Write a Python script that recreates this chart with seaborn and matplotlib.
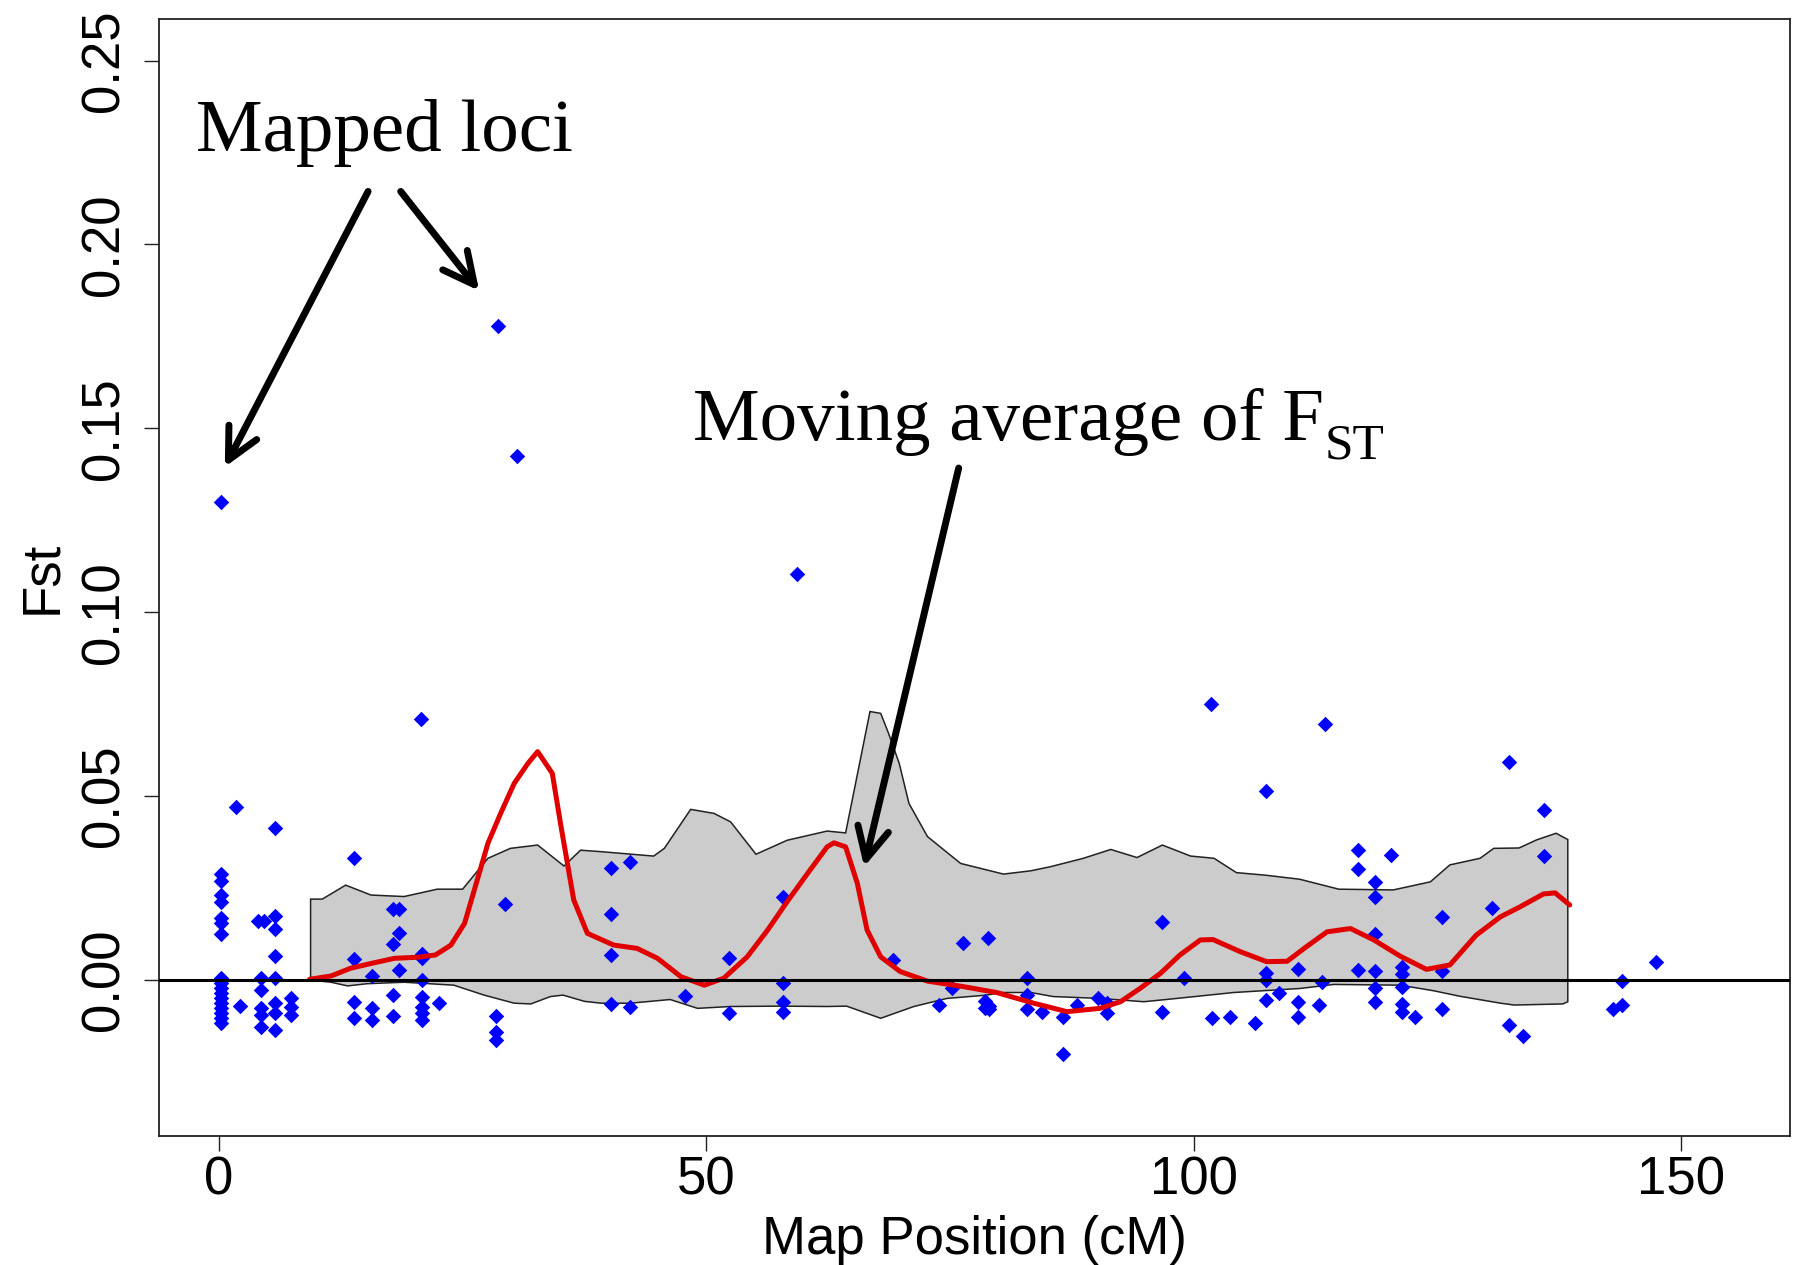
import matplotlib
matplotlib.use("Agg")
import matplotlib.pyplot as plt
import pandas as pd
import seaborn as sns

# ---- mapped loci: map position (cM) and per-locus Fst ----
locus_pos = [
    0.2, 0.2, 0.2, 0.2, 0.2, 0.2, 0.2, 0.2, 0.2, 0.2, 0.2, 0.2, 0.2, 0.2, 0.2, 0.2, 0.2, 0.2,
    1.7, 2.2, 4.0, 4.6,
    4.3, 4.3, 4.3, 4.3, 4.3,
    5.7, 5.7, 5.7, 5.7, 5.7, 5.7, 5.7, 5.7,
    7.4, 7.4, 7.4,
    13.9, 13.9, 13.9, 13.9,
    15.7, 15.7, 15.7,
    17.9, 17.9, 17.9, 17.9,
    18.5, 18.5, 18.5,
    20.7,
    20.8, 20.8, 20.8, 20.8, 20.8, 20.8, 20.8,
    22.6,
    28.4, 28.4, 28.4,
    28.6, 29.3, 30.6,
    40.2, 40.2, 40.2, 40.2,
    42.2, 42.2,
    47.8,
    52.3, 52.3,
    57.9, 57.9, 57.9, 57.9,
    59.3, 69.2, 73.9, 75.2, 76.3, 78.9,
    78.6, 78.6, 79.0, 79.0,
    82.9, 82.9, 82.9,
    84.4,
    86.6, 86.6,
    88.0, 90.2,
    91.1, 91.1,
    96.8, 96.8,
    99.0, 101.8, 101.9, 103.7, 106.3,
    107.4, 107.4, 107.4, 107.4,
    108.8,
    110.7, 110.7, 110.7,
    112.9, 113.2, 113.5,
    116.9, 116.9, 116.9,
    118.6, 118.6, 118.6, 118.6, 118.6, 118.6,
    120.3,
    121.4, 121.4, 121.4, 121.4, 121.4,
    122.7,
    125.5, 125.5, 125.5,
    130.6,
    132.4, 132.4,
    133.8,
    136.0, 136.0,
    143.0,
    144.0, 144.0,
    147.4,
]
locus_fst = [
    0.130, 0.0288, 0.0270, 0.0231, 0.0213, 0.0168, 0.0154, 0.0125, 0.0005,
    -0.0009, -0.0023, -0.0036, -0.0050, -0.0063, -0.0077, -0.0090, -0.0104, -0.0118,
    0.0470, -0.0071, 0.0160, 0.0161,
    0.0005, -0.0027, -0.0077, -0.0095, -0.0127,
    0.0414, 0.0175, 0.0139, 0.0066, 0.0005, -0.0063, -0.0090, -0.0136,
    -0.0050, -0.0072, -0.0095,
    0.0333, 0.0057, -0.0061, -0.0104,
    0.0011, -0.0077, -0.0109,
    0.0193, 0.0098, -0.0041, -0.0098,
    0.0193, 0.0127, 0.0027,
    0.0710,
    0.0071, 0.0060, 0.0000, -0.0047, -0.0072, -0.0090, -0.0109,
    -0.0063,
    -0.0097, -0.0140, -0.0163,
    0.1778, 0.0206, 0.1426,
    0.0304, 0.0179, 0.0068, -0.0065,
    0.0320, -0.0072,
    -0.0044,
    0.0059, -0.0089,
    0.0227, -0.0009, -0.0059, -0.0088,
    0.1105, 0.0054, -0.0068, -0.0023, 0.0101, 0.0113,
    -0.0058, -0.0077, -0.0070, -0.0080,
    0.0005, -0.0041, -0.0080,
    -0.0086,
    -0.0100, -0.0201,
    -0.0068, -0.0050,
    -0.0063, -0.0090,
    0.0157, -0.0088,
    0.0006, 0.0750, -0.0102, -0.0101, -0.0116,
    0.0515, 0.0020, 0.0000, -0.0054,
    -0.0036,
    0.0029, -0.0059, -0.0100,
    -0.0068, -0.0005, 0.0697,
    0.0353, 0.0301, 0.0027,
    0.0267, 0.0227, 0.0125, 0.0025, -0.0023, -0.0059,
    0.0340,
    0.0036, 0.0016, -0.0018, -0.0065, -0.0086,
    -0.0101,
    0.0172, 0.0025, -0.0080,
    0.0195,
    0.0594, -0.0122,
    -0.0151,
    0.0462, 0.0337,
    -0.0080,
    -0.0002, -0.0068,
    0.0050,
]

# ---- moving average of Fst along the map ----
ma_pos = [9.3, 11.5, 13.5, 15.6, 18.0, 20.4, 22.2, 23.8, 25.2, 26.5, 27.6, 28.9, 30.3,
          31.7, 32.7, 34.2, 35.1, 36.4, 37.8, 40.5, 42.9, 45.0, 47.4, 49.8, 51.8,
          54.2, 56.3, 58.3, 60.4, 62.4, 63.1, 64.3, 65.5, 66.5, 67.9, 69.9, 72.7,
          76.4, 79.8, 83.6, 87.0, 90.4, 92.5, 94.5, 96.6, 98.6, 100.7, 102.0, 104.8,
          107.5, 109.6, 111.6, 113.7, 116.1, 118.5, 121.2, 123.9, 126.3, 129.0,
          131.5, 133.5, 135.9, 137.1, 138.6]
ma_fst = [0.0002, 0.0011, 0.0032, 0.0045, 0.0059, 0.0062, 0.0068, 0.0095, 0.0154, 0.0272,
          0.0372, 0.0453, 0.0535, 0.0589, 0.0621, 0.0562, 0.0417, 0.0218, 0.0127, 0.0095,
          0.0086, 0.0059, 0.0009, -0.0014, 0.0005, 0.0063, 0.0136, 0.0213, 0.0290,
          0.0362, 0.0373, 0.0362, 0.0263, 0.0136, 0.0063, 0.0023, -0.0003, -0.0018,
          -0.0034, -0.0063, -0.0086, -0.0077, -0.0059, -0.0023, 0.0018, 0.0068, 0.0109,
          0.0110, 0.0077, 0.0050, 0.0051, 0.0091, 0.0131, 0.0140, 0.0109, 0.0065,
          0.0029, 0.0041, 0.0122, 0.0172, 0.0199, 0.0234, 0.0237, 0.0204]

# ---- null envelope (upper and lower bounds) ----
upper_pos = [9.4, 10.6, 13.0, 15.6, 19.0, 22.4, 25.0, 27.6, 29.9, 32.7, 35.4, 37.1, 39.2,
             44.6, 45.7, 48.4, 50.8, 52.5, 55.1, 58.3, 62.4, 64.3, 66.8, 67.9, 68.7,
             69.8, 70.8, 72.7, 74.0, 76.1, 80.5, 83.3, 85.3, 88.7, 91.5, 94.2, 96.8,
             99.7, 102.1, 104.4, 107.4, 110.9, 114.9, 120.5, 124.3, 126.3, 129.4,
             130.8, 133.4, 135.2, 137.2, 138.4]
upper_fst = [0.0220, 0.0220, 0.0258, 0.0231, 0.0227, 0.0247, 0.0247, 0.0331, 0.0358,
             0.0367, 0.0310, 0.0353, 0.0349, 0.0337, 0.0358, 0.0464, 0.0453, 0.0430,
             0.0342, 0.0380, 0.0405, 0.0400, 0.0730, 0.0725, 0.0671, 0.0589, 0.0480,
             0.0390, 0.0362, 0.0317, 0.0288, 0.0297, 0.0308, 0.0331, 0.0355, 0.0333,
             0.0367, 0.0337, 0.0331, 0.0292, 0.0285, 0.0274, 0.0247, 0.0245, 0.0267,
             0.0313, 0.0331, 0.0358, 0.0359, 0.0381, 0.0399, 0.0382]
lower_pos = [9.4, 11.5, 13.2, 15.2, 19.0, 24.1, 27.2, 30.3, 32.0, 34.0, 35.3, 37.5, 39.2,
             42.2, 46.3, 49.1, 52.5, 57.6, 62.4, 64.4, 67.9, 71.3, 74.7, 78.8, 80.2,
             83.3, 85.6, 90.4, 94.9, 98.3, 104.1, 110.9, 114.4, 121.2, 124.6, 127.3,
             131.5, 132.9, 137.9, 138.4]
lower_fst = [0.0000, -0.0006, -0.0016, -0.0010, -0.0006, -0.0014, -0.0041, -0.0063,
             -0.0065, -0.0045, -0.0041, -0.0058, -0.0063, -0.0063, -0.0053, -0.0077,
             -0.0072, -0.0071, -0.0072, -0.0071, -0.0104, -0.0072, -0.0050, -0.0041,
             -0.0034, -0.0034, -0.0045, -0.0050, -0.0059, -0.0050, -0.0034, -0.0023,
             -0.0012, -0.0014, -0.0029, -0.0044, -0.0063, -0.0068, -0.0065, -0.0059]

x_ticks = [0, 50, 100, 150]
y_ticks = [0.00, 0.05, 0.10, 0.15, 0.20, 0.25]

loci = pd.DataFrame({"pos": locus_pos, "fst": locus_fst})
moving = pd.DataFrame({"pos": ma_pos, "fst": ma_fst})

sns.set_style("ticks")
plt.rcParams["font.family"] = ["Liberation Sans", "DejaVu Sans"]
plt.rcParams["text.color"] = "black"
plt.rcParams["axes.labelcolor"] = "black"

fig = plt.figure(figsize=(17.99, 12.65), dpi=100)
ax = fig.add_axes([0.0884, 0.102, 0.9066, 0.883])

# envelope polygon: upper bound left-to-right, lower bound right-to-left
poly_x = upper_pos + lower_pos[::-1]
poly_y = upper_fst + lower_fst[::-1]
ax.fill(poly_x, poly_y, facecolor="#cbcccb", edgecolor="#222222", linewidth=1.1, zorder=1)

sns.scatterplot(data=loci, x="pos", y="fst", marker="D", s=62, color="#0000ff",
                linewidth=0, ax=ax, zorder=3, legend=False)
sns.lineplot(data=moving, x="pos", y="fst", sort=False, estimator=None,
             color="#e00000", linewidth=3.6, ax=ax, zorder=4)
ax.axhline(0, color="black", linewidth=2.2, zorder=5)

ax.set_xlim(-6.15, 161.2)
ax.set_ylim(-0.0424, 0.2613)
ax.set_xticks(x_ticks)
ax.set_xticklabels([str(v) for v in x_ticks])
ax.set_yticks(y_ticks)
ax.set_yticklabels([f"{v:.2f}" for v in y_ticks], rotation=90, va="center")

for side in ["left", "right", "top", "bottom"]:
    ax.spines[side].set_visible(True)
    ax.spines[side].set_color("#222222")
    ax.spines[side].set_linewidth(1.3)

ax.tick_params(axis="both", length=11, width=1.0, color="#222222",
               labelsize=38, labelcolor="black")
ax.tick_params(axis="x", pad=3)
ax.tick_params(axis="y", pad=10)

ax.set_xlabel("Map Position (cM)", fontsize=38, labelpad=7)
ax.set_ylabel("Fst", fontsize=38, labelpad=9)

serif = ["Liberation Serif", "DejaVu Serif"]
ax.text(-2.36, 0.2254, "Mapped loci", fontsize=54, family=serif,
        ha="left", va="baseline", zorder=6)
main_txt = ax.text(48.6, 0.1468, "Moving average of F", fontsize=54, family=serif,
                   ha="left", va="baseline", zorder=6)
# subscript placed just after the "F", dropped below the baseline
ax.annotate("ST", xy=(1, 0), xycoords=main_txt, xytext=(1, -2),
            textcoords="offset points", fontsize=37, family=serif,
            ha="left", va="baseline", zorder=6)

arrow_style = dict(arrowstyle="->,head_length=0.5,head_width=0.25", color="black",
                   lw=5, mutation_scale=45, shrinkA=0, shrinkB=0)
ax.annotate("", xy=(0.6, 0.1395), xytext=(15.3, 0.2144), arrowprops=arrow_style, zorder=6)
ax.annotate("", xy=(26.7, 0.1874), xytext=(18.65, 0.2144), arrowprops=arrow_style, zorder=6)
ax.annotate("", xy=(66.2, 0.0308), xytext=(75.9, 0.1392), arrowprops=arrow_style, zorder=6)

fig.savefig("out.png", dpi=100)
